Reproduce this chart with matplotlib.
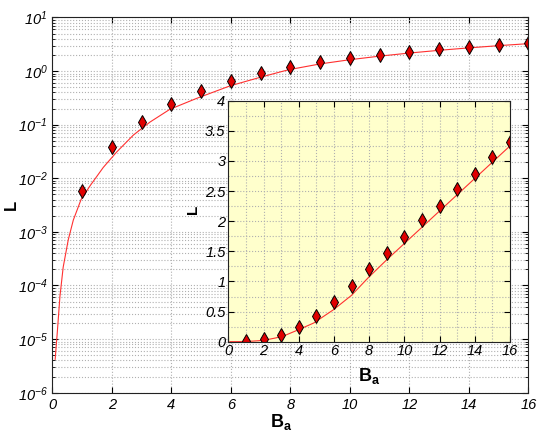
import math
import matplotlib
matplotlib.use("Agg")
import matplotlib.pyplot as plt
from matplotlib.ticker import FixedLocator, FuncFormatter, LogLocator, MultipleLocator

# measured points (diamonds)
B = [1, 2, 3, 4, 5, 6, 7, 8, 9, 10, 11, 12, 13, 14, 15, 16]
L = [0.0058, 0.038, 0.11, 0.24, 0.43, 0.66, 0.92, 1.20, 1.47, 1.74,
     2.02, 2.26, 2.53, 2.79, 3.06, 3.32]

# model curve
B_fit = [0.09, 0.16, 0.25, 0.36, 0.53, 0.70, 0.96, 1.26, 1.71, 2.16, 2.72,
         3.28, 3.95, 4.85, 5.97, 7.0, 7.94, 9.0, 10, 11, 12, 13, 14, 15, 16]
L_fit = [4.2e-6, 1.3e-5, 6.2e-5, 2.2e-4, 7.1e-4, 1.66e-3, 4.0e-3, 7.2e-3,
         0.0160, 0.0310, 0.064, 0.112, 0.194, 0.31, 0.53, 0.77, 1.06, 1.36,
         1.63, 1.90, 2.17, 2.44, 2.71, 2.98, 3.25]

x_ticks = [0, 2, 4, 6, 8, 10, 12, 14, 16]
decades = [-6, -5, -4, -3, -2, -1, 0, 1]
lin_ticks = [0, 0.5, 1, 1.5, 2, 2.5, 3, 3.5, 4]

plt.rcParams["font.family"] = "Liberation Sans"
plt.rcParams["font.style"] = "italic"
plt.rcParams["mathtext.fontset"] = "custom"
plt.rcParams["mathtext.rm"] = "Liberation Sans:italic"
plt.rcParams["mathtext.it"] = "Liberation Sans:italic"
plt.rcParams["mathtext.bf"] = "Liberation Sans:style=normal:weight=bold"

grid_kw = dict(color="#b0b0b0", linestyle=":", linewidth=0.8)
mk = dict(marker="d", markersize=7, markerfacecolor="#e00000",
          markeredgecolor="black", markeredgewidth=0.7, linestyle="none")

fig = plt.figure(figsize=(5.45, 4.36), dpi=100)

ax = fig.add_axes([0.0963, 0.0993, 0.873, 0.8606])
ax.set_yscale("log")
ax.plot(B_fit, L_fit, color="#ff3030", linewidth=0.8)
ax.plot(B, L, **mk)
ax.set_xlim(0, 16)
ax.set_ylim(1e-6, 1e1)
ax.xaxis.set_major_locator(FixedLocator(x_ticks))
ax.yaxis.set_major_locator(FixedLocator([10.0 ** d for d in decades]))
ax.yaxis.set_major_formatter(FuncFormatter(lambda v, p: r"$10^{%d}$" % round(math.log10(v))))
ax.yaxis.set_minor_locator(LogLocator(base=10, subs=range(2, 10), numticks=20))
ax.yaxis.set_minor_formatter(FuncFormatter(lambda v, p: ""))
ax.tick_params(direction="in", top=True, right=True, labelsize=10.5, length=4)
ax.tick_params(which="minor", direction="in", right=True, length=2)
ax.grid(True, which="major", **grid_kw)
ax.grid(True, which="minor", axis="y", **grid_kw)
ax.set_xlabel(r"$\mathbf{B}_{\mathbf{a}}$", fontsize=13)
ax.set_ylabel("L", fontsize=12, fontweight="bold", fontstyle="normal")
ax.xaxis.set_label_coords(0.48, -0.052)
ax.yaxis.set_label_coords(-0.07, 0.5)
for s in ax.spines.values():
    s.set_color("#222222")

ins = fig.add_axes([0.4189, 0.2163, 0.5169, 0.5527])
ins.set_facecolor("#ffffcc")
ins.plot(B_fit, L_fit, color="#ff3030", linewidth=0.8)
ins.plot(B, L, **mk)
ins.set_xlim(0, 16)
ins.set_ylim(0, 4)
ins.xaxis.set_major_locator(FixedLocator(x_ticks))
ins.yaxis.set_major_locator(FixedLocator(lin_ticks))
ins.yaxis.set_major_formatter(FuncFormatter(lambda v, p: "%g" % v))
ins.xaxis.set_minor_locator(MultipleLocator(1))
ins.yaxis.set_minor_locator(MultipleLocator(0.25))
ins.tick_params(direction="in", top=True, right=True, labelsize=10.5, length=4, pad=2)
ins.tick_params(which="minor", length=0)
ins.grid(True, which="both", **grid_kw)
ins.set_xlabel(r"$\mathbf{B}_{\mathbf{a}}$", fontsize=13)
ins.set_ylabel("L", fontsize=11, fontweight="bold", fontstyle="normal")
ins.xaxis.set_label_coords(0.5, -0.1)
ins.yaxis.set_label_coords(-0.1, 0.55)
for s in ins.spines.values():
    s.set_color("#222222")

fig.savefig("out.png", dpi=100)
